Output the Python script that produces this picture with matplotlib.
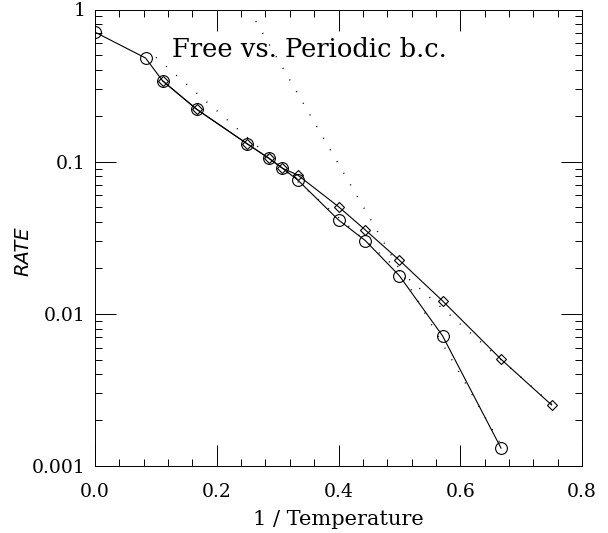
import matplotlib
matplotlib.use("Agg")
import matplotlib.pyplot as plt
from matplotlib.ticker import MultipleLocator, LogLocator, NullFormatter

# free boundary conditions (circles)
inv_temp_free = [0.0, 0.083, 0.111, 0.167, 0.25, 0.286, 0.308, 0.333, 0.4, 0.444, 0.5, 0.571, 0.667]
rate_free = [0.71, 0.48, 0.340, 0.221, 0.131, 0.105, 0.0905, 0.0758, 0.0414, 0.0303, 0.0178, 0.00716, 0.00131]

# periodic boundary conditions (diamonds)
inv_temp_per = [0.111, 0.167, 0.25, 0.286, 0.308, 0.333, 0.4, 0.444, 0.5, 0.571, 0.667, 0.75]
rate_per = [0.340, 0.221, 0.131, 0.105, 0.0905, 0.0817, 0.0506, 0.0356, 0.0225, 0.01216, 0.00503, 0.00252]

# arrhenius fits (dotted)
fit_free_x = [0.253, 0.667]
fit_free_rate = [1.0, 0.00138]
fit_per_x = [0.1, 0.764]
fit_per_rate = [0.485, 0.00228]

serif = "DejaVu Serif"

fig = plt.figure(figsize=(6.08, 5.33), dpi=100)
ax = fig.add_axes([95 / 608, 67 / 533, 487 / 608, 456.5 / 533])

dots = (0, (0.8, 8.9))
ax.plot(fit_free_x, fit_free_rate, color="#111111", lw=1.0, linestyle=dots)
ax.plot(fit_per_x, fit_per_rate, color="#111111", lw=1.0, linestyle=dots)

ax.plot(inv_temp_free, rate_free, color="black", lw=0.8, marker="o", ms=8.5,
        mfc="none", mec="black", mew=0.8)
ax.plot(inv_temp_per, rate_per, color="black", lw=0.8, marker="D", ms=5.5,
        mfc="none", mec="black", mew=0.8)

ax.set_yscale("log")
ax.set_xlim(0, 0.8)
ax.set_ylim(0.001, 1)

ax.xaxis.set_minor_locator(MultipleLocator(0.04))
ax.yaxis.set_minor_locator(LogLocator(base=10, subs=range(2, 10), numticks=10))
ax.yaxis.set_minor_formatter(NullFormatter())
ax.set_yticks([0.001, 0.01, 0.1, 1])
ax.set_yticklabels(["0.001", "0.01", "0.1", "1"])
ax.set_xticks([0.0, 0.2, 0.4, 0.6, 0.8])
ax.set_xticklabels(["0.0", "0.2", "0.4", "0.6", "0.8"])

ax.tick_params(which="both", direction="in", top=True, right=True, width=0.7)
ax.tick_params(which="major", length=15)
ax.tick_params(which="minor", length=4.8)
ax.tick_params(axis="x", which="major", pad=12)
ax.tick_params(axis="y", which="major", pad=7)
for lab in ax.get_xticklabels() + ax.get_yticklabels():
    lab.set_family(serif)
    lab.set_fontsize(13.5)

for sp in ax.spines.values():
    sp.set_linewidth(0.7)

ax.set_xlabel("1 / Temperature", family=serif, fontsize=15, labelpad=7)
ax.set_ylabel("RATE", family="DejaVu Sans", style="italic", fontsize=14)
ax.yaxis.set_label_coords(-0.128, 0.471)

ax.text(0.158, 0.896, "Free vs. Periodic b.c.", transform=ax.transAxes,
        family=serif, fontsize=18.5, ha="left", va="baseline")

fig.savefig("out.png", dpi=100)
